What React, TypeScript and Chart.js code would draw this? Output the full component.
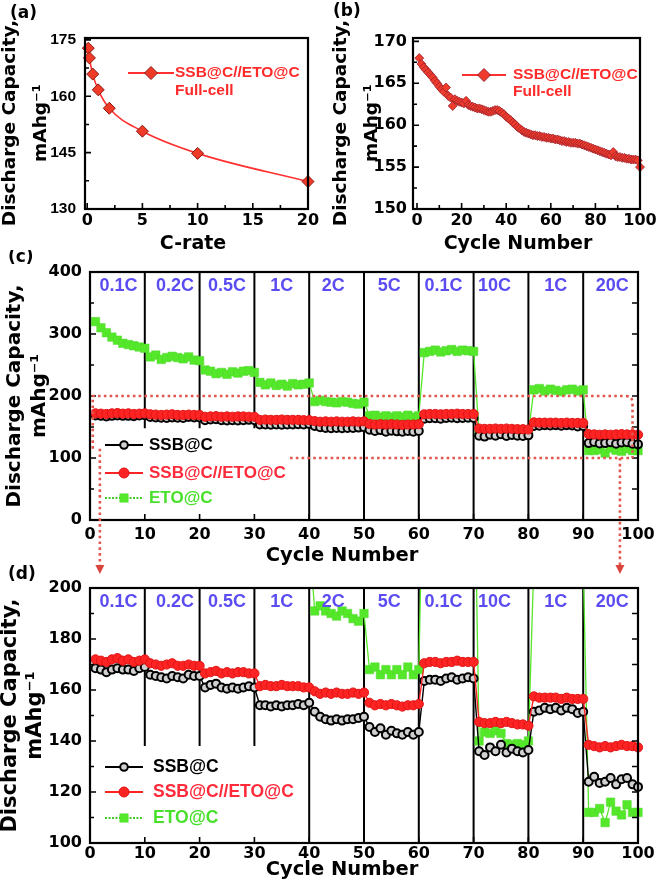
import React, { useEffect, useRef } from "react";
import { Chart, registerables } from "chart.js";

Chart.register(...registerables);

const SANS = '"Liberation Sans", Arial, Helvetica, sans-serif';
const WIDE = '"DejaVu Sans", Verdana, sans-serif';

const RED = "#ff2424";
const GREEN = "#55e82a";
const BLUE = "#5b4cf2";
const DOT_RED = "#e2574e";

// ---------------- (a) rate capability of the full cell ----------------
const aCRates = [0.1, 0.2, 0.5, 1, 2, 5, 10, 20];
const aCapacity = [172.8, 170.2, 165.9, 161.7, 156.8, 150.7, 144.8, 137.3];
const aXTicks = [0, 5, 10, 15, 20];
const aYTicks = [130, 145, 160, 175];

// ---------------- (b) cycling of the full cell ----------------
const bCapacity = [
  168.0, 167.3, 166.9, 166.6, 166.3, 166.0, 165.7, 165.3, 165.0, 164.6,
  164.3, 164.0, 164.5, 163.5, 163.3, 162.3, 163.1, 162.9, 162.8, 162.7,
  162.6, 162.9, 162.4, 162.3, 162.2, 162.1, 162.0, 162.0, 161.9, 161.8,
  161.7, 161.6, 161.6, 161.7, 161.8, 161.8, 161.7, 161.5, 161.3, 161.0,
  160.8, 160.6, 160.3, 160.1, 159.8, 159.6, 159.4, 159.2, 159.1, 159.0,
  158.9, 158.8, 158.8, 158.7, 158.7, 158.6, 158.6, 158.5, 158.5, 158.4,
  158.4, 158.3, 158.3, 158.2, 158.1, 158.1, 158.0, 158.0, 157.9, 157.9,
  157.9, 157.8, 157.8, 157.7, 157.6, 157.5, 157.4, 157.3, 157.2, 157.1,
  157.0, 156.9, 156.8, 156.7, 156.6, 156.5, 156.4, 156.8, 156.3, 156.2,
  156.2, 156.1, 156.1, 156.0, 156.0, 155.9, 155.9, 155.9, 155.8, 155.0,
];
const bXTicks = [0, 20, 40, 60, 80, 100];
const bYTicks = [150, 155, 160, 165, 170];

// ---------------- (c)/(d) rate test of the three electrodes ----------------
const seriesNames = ["SSB@C", "SSB@C//ETO@C", "ETO@C"];
const rateLabels = ["0.1C", "0.2C", "0.5C", "1C", "2C", "5C", "0.1C", "10C", "1C", "20C"];
const rateLabelCycle = [5.2, 15.5, 25, 35, 44.4, 54.6, 64.5, 73.8, 85, 95.3];
const dividerCycles = [10, 20, 30, 40, 50, 60, 70, 80, 90];

const ssbC = [
  168.5, 168, 167, 168, 168.5, 168, 168, 167.5, 168.5, 169,
  166, 165.5, 165, 164.5, 165.5, 165, 164.5, 166, 165.5, 165.5,
  161, 162, 162.5, 161, 160.5, 161, 160.5, 161, 161.5, 161,
  154, 154, 153.5, 154, 153.5, 154, 154, 154.5, 154, 155,
  151.5, 149.5, 148.5, 148, 148.5, 148, 148.5, 148.5, 149, 149.5,
  145.5, 143.5, 145, 142.5, 144, 143, 142.5, 143.5, 142.5, 143.5,
  163.5, 164, 164, 163.5, 164.5, 165, 164, 164.5, 165, 164.5,
  136, 134.5, 137.5, 136, 138.5, 135.5, 137, 136, 135.5, 136.5,
  151.5, 152, 153, 152.5, 153, 152, 153, 152.5, 151, 151.5,
  124, 126, 123.5, 124, 125.5, 123, 125, 125.5, 123, 122,
];
const ssbEtoC = [
  172, 171.5, 171, 172, 172.5, 171.5, 172, 171, 171.5, 172,
  170.5, 170, 169.5, 170, 170.5, 169.5, 169.5, 170, 169.5, 169.5,
  166.5, 167, 167.5, 166.5, 167, 166.5, 167, 167, 166.5, 166.5,
  161.5, 162, 161.5, 161.5, 162, 161.5, 161.5, 161.5, 161, 161,
  159.5, 158.5, 159, 158.5, 159, 158.5, 158.5, 159, 158.5, 159,
  155, 154, 154.5, 154, 154.5, 154, 153.5, 154, 154, 154.5,
  170.5, 171, 171, 170.5, 171, 171, 171.5, 171, 171, 171,
  147.5, 147, 147, 147.5, 147, 147.5, 147, 146.5, 146.5, 146,
  157.5, 157, 157, 157, 157, 156.5, 157, 156.5, 156.5, 156.5,
  138.5, 138, 137.5, 138, 137.5, 138, 138.5, 138, 138, 137.5,
];
const etoC = [
  320, 310, 302, 295, 290, 285, 283, 281, 279, 277,
  263, 266, 259, 262, 264, 262, 260, 263, 258, 257,
  242, 240, 236, 238, 235, 239, 237, 240, 241, 238,
  222, 218, 221, 217, 219, 216, 220, 218, 219, 221,
  191, 193, 191, 190, 189, 191, 190, 188, 187, 190,
  168, 169, 166, 168, 166, 168, 166, 169, 166, 168,
  270, 272, 274, 271, 273, 275, 272, 274, 273, 272,
  140, 143.5, 143, 144, 143, 139, 138.5, 139, 138.5, 140,
  210, 212, 208, 211, 209, 207, 210, 211, 208, 210,
  112, 112, 113.5, 108, 116, 112.5, 111, 115, 112, 112,
];
const cXTicks = [0, 10, 20, 30, 40, 50, 60, 70, 80, 90, 100];
const cYTicks = [0, 100, 200, 300, 400];
const dYTicks = [100, 120, 140, 160, 180, 200];

// ---------------- helpers ----------------
const midpoints = (t: number[]) => t.slice(1).map((v, i) => (v + t[i]) / 2);
const setTicks = (values: number[]) => (scale: any) => {
  scale.ticks = values.map((value) => ({ value }));
};
const bold = (size: number, family: string) => ({ family, size, weight: "bold" as const, lineHeight: 1.2 });

function xAxis(min: number, max: number, ticks: number[], height: number, pad: number, size: number) {
  return {
    type: "linear",
    min,
    max,
    afterBuildTicks: setTicks(ticks),
    afterFit: (s: any) => {
      s.height = height;
    },
    grid: { display: false, drawTicks: false },
    border: { display: false },
    ticks: { font: bold(size, WIDE), color: "#000", padding: pad, autoSkip: false, maxRotation: 0, minRotation: 0 },
  };
}
function yAxis(min: number, max: number, ticks: number[], width: number, pad: number, size: number, family: string) {
  return {
    type: "linear",
    min,
    max,
    afterBuildTicks: setTicks(ticks),
    afterFit: (s: any) => {
      s.width = width;
    },
    grid: { display: false, drawTicks: false },
    border: { display: false },
    ticks: { font: bold(size, family), color: "#000", padding: pad, autoSkip: false },
  };
}

function drawFrame(chart: any) {
  const { ctx, chartArea: a } = chart;
  ctx.save();
  ctx.strokeStyle = "#000";
  ctx.lineWidth = 2.2;
  ctx.strokeRect(a.left, a.top, a.right - a.left, a.bottom - a.top);
  ctx.restore();
}

function drawInnerTicks(chart: any, spec: { x: number[]; xMinor: number[]; y: number[]; yMinor: number[]; right: boolean }) {
  const { ctx, chartArea: a, scales } = chart;
  ctx.save();
  ctx.strokeStyle = "#000";
  ctx.lineWidth = 1.6;
  ctx.beginPath();
  const xs = scales.x;
  const ys = scales.y;
  const xt = (v: number, L: number) => {
    const p = xs.getPixelForValue(v);
    ctx.moveTo(p, a.bottom);
    ctx.lineTo(p, a.bottom - L);
  };
  const yt = (v: number, L: number) => {
    const p = ys.getPixelForValue(v);
    ctx.moveTo(a.left, p);
    ctx.lineTo(a.left + L, p);
    if (spec.right) {
      ctx.moveTo(a.right, p);
      ctx.lineTo(a.right - 6, p);
    }
  };
  spec.x.forEach((v) => xt(v, 6));
  spec.xMinor.forEach((v) => xt(v, 4));
  spec.y.forEach((v) => yt(v, 6));
  spec.yMinor.forEach((v) => yt(v, 4));
  ctx.stroke();
  ctx.restore();
}

function drawText(ctx: any, str: string, x: number, y: number, font: string, color: string, align = "left") {
  ctx.save();
  ctx.font = font;
  ctx.fillStyle = color;
  ctx.textAlign = align;
  ctx.textBaseline = "middle";
  ctx.fillText(str, x, y);
  ctx.restore();
}

function drawVText(ctx: any, lines: string[], xs: number[], y: number, font: string) {
  lines.forEach((line, i) => {
    ctx.save();
    ctx.translate(xs[i], y);
    ctx.rotate(-Math.PI / 2);
    ctx.font = font;
    ctx.fillStyle = "#000";
    ctx.textAlign = "center";
    ctx.textBaseline = "middle";
    ctx.fillText(line, 0, 0);
    ctx.restore();
  });
}

function drawMarker(ctx: any, kind: string, x: number, y: number, r: number, fill: string, stroke: string, lw: number) {
  ctx.save();
  ctx.fillStyle = fill;
  ctx.strokeStyle = stroke;
  ctx.lineWidth = lw;
  ctx.beginPath();
  if (kind === "circle") ctx.arc(x, y, r, 0, Math.PI * 2);
  else if (kind === "rect") {
    const h = r * Math.SQRT1_2;
    ctx.rect(x - h, y - h, 2 * h, 2 * h);
  } else {
    ctx.moveTo(x - r, y);
    ctx.lineTo(x, y - r);
    ctx.lineTo(x + r, y);
    ctx.lineTo(x, y + r);
    ctx.closePath();
  }
  ctx.fill();
  if (lw > 0) ctx.stroke();
  ctx.restore();
}

function drawLegendLine(ctx: any, x0: number, x1: number, y: number, color: string, width: number, dash: number[] = []) {
  ctx.save();
  ctx.strokeStyle = color;
  ctx.lineWidth = width;
  ctx.setLineDash(dash);
  ctx.beginPath();
  ctx.moveTo(x0, y);
  ctx.lineTo(x1, y);
  ctx.stroke();
  ctx.restore();
}

const WIDE_BOLD = (s: number) => `bold ${s}px ${WIDE}`;
const SANS_BOLD = (s: number) => `bold ${s}px ${SANS}`;

const baseOptions = (padTop: number, padRight: number) => ({
  responsive: false,
  animation: false,
  events: [],
  layout: { padding: { top: padTop, right: padRight, bottom: 0, left: 0 } },
  plugins: { legend: { display: false }, tooltip: { enabled: false }, title: { display: false } },
});

// ---------------- chart configs ----------------
function buildA() {
  return {
    type: "line",
    data: {
      datasets: [
        {
          label: "SSB@C//ETO@C Full-cell",
          data: aCRates.map((x, i) => ({ x, y: aCapacity[i] })),
          borderColor: "#ff3030",
          borderWidth: 1.6,
          cubicInterpolationMode: "monotone",
          pointStyle: "rectRot",
          pointRadius: 6,
          pointBackgroundColor: "#ef3a28",
          pointBorderColor: "#8a1a12",
          pointBorderWidth: 1,
          clip: false,
        },
      ],
    },
    options: {
      ...baseOptions(38, 22),
      scales: {
        x: xAxis(-0.2, 20, aXTicks, 53, 2, 16),
        y: yAxis(130, 175.5, aYTicks, 85, 9, 15.5, SANS),
      },
    },
    plugins: [
      {
        id: "decorA",
        afterDraw(chart: any) {
          const { ctx } = chart;
          drawFrame(chart);
          drawInnerTicks(chart, { x: aXTicks, xMinor: midpoints(aXTicks), y: aYTicks, yMinor: midpoints(aYTicks), right: false });
          drawLegendLine(ctx, 128, 174, 73, "#ff3030", 1.8);
          drawMarker(ctx, "diamond", 151, 73, 6.5, "#ef3a28", "#8a1a12", 1);
          drawText(ctx, "SSB@C//ETO@C", 175, 73, SANS_BOLD(15.5), "#ff2a2a");
          drawText(ctx, "Full-cell", 175, 91, SANS_BOLD(15.5), "#ff2a2a");
          drawText(ctx, "(a)", 10, 14, WIDE_BOLD(17), "#000");
          drawVText(ctx, ["Discharge Capacity,", "mAhg\u207B\u00B9"], [10, 41], 123, WIDE_BOLD(18.5));
          drawText(ctx, "C-rate", 193, 244, WIDE_BOLD(19), "#000", "center");
        },
      },
    ],
  };
}

function buildB() {
  return {
    type: "line",
    data: {
      datasets: [
        {
          label: "SSB@C//ETO@C Full-cell",
          data: bCapacity.map((y, i) => ({ x: i + 1, y })),
          borderColor: "#ff3030",
          borderWidth: 1,
          pointStyle: "rectRot",
          pointRadius: 4.5,
          pointBackgroundColor: "#ee3b2b",
          pointBorderColor: "#9b2230",
          pointBorderWidth: 0.8,
          clip: false,
        },
      ],
    },
    options: {
      ...baseOptions(38, 21),
      scales: {
        x: xAxis(-1.8, 100, bXTicks, 53, 2, 16),
        y: yAxis(150, 170.4, bYTicks, 83, 6, 16, WIDE),
      },
    },
    plugins: [
      {
        id: "decorB",
        afterDraw(chart: any) {
          const { ctx } = chart;
          drawFrame(chart);
          drawInnerTicks(chart, { x: bXTicks, xMinor: midpoints(bXTicks), y: bYTicks, yMinor: midpoints(bYTicks), right: false });
          drawLegendLine(ctx, 132, 176, 75, "#ff3030", 1.8);
          drawMarker(ctx, "diamond", 154, 75, 6.5, "#ee3b2b", "#9b2230", 1);
          drawText(ctx, "SSB@C//ETO@C", 183, 75, SANS_BOLD(15.5), "#ff2a2a");
          drawText(ctx, "Full-cell", 183, 92, SANS_BOLD(15.5), "#ff2a2a");
          drawText(ctx, "(b)", 3, 12, WIDE_BOLD(17), "#000");
          drawVText(ctx, ["Discharge Capacity,", "mAhg\u207B\u00B9"], [11, 42], 123, WIDE_BOLD(18.5));
          drawText(ctx, "Cycle Number", 188, 244, WIDE_BOLD(19), "#000", "center");
        },
      },
    ],
  };
}

type RateCfg = {
  id: string;
  panel: string;
  panelY: number;
  yMin: number;
  yMax: number;
  yTicks: number[];
  padTop: number;
  xHeight: number;
  xPad: number;
  dividerStop: number;
  legendY: number[];
  legendTextX: number;
  legendFont: number;
  yTitleX: number[];
  yTitleFont: number;
  xTitleY: number;
  annotate: boolean;
};

function buildRate(cfg: RateCfg) {
  const cycles = ssbC.map((_, i) => i + 1);
  const clip = { left: 8, right: 8, top: 0, bottom: 8 };
  return {
    type: "line",
    data: {
      datasets: [
        {
          label: seriesNames[1],
          data: cycles.map((x, i) => ({ x, y: ssbEtoC[i] })),
          borderColor: RED,
          borderWidth: 1.4,
          pointStyle: "circle",
          pointRadius: 4.6,
          pointBackgroundColor: RED,
          pointBorderColor: "#e01414",
          pointBorderWidth: 1,
          order: 0,
          clip,
        },
        {
          label: seriesNames[0],
          data: cycles.map((x, i) => ({ x, y: ssbC[i] })),
          borderColor: "#000",
          borderWidth: 1.4,
          pointStyle: "circle",
          pointRadius: 4,
          pointBackgroundColor: "#d0d0d0",
          pointBorderColor: "#000",
          pointBorderWidth: 2,
          order: 1,
          clip,
        },
        {
          label: seriesNames[2],
          data: cycles.map((x, i) => ({ x, y: etoC[i] })),
          borderColor: GREEN,
          borderWidth: 1.3,
          pointStyle: "rect",
          pointRadius: 6,
          pointBackgroundColor: GREEN,
          pointBorderColor: "#4cd82a",
          pointBorderWidth: 0.5,
          order: 2,
          clip,
        },
      ],
    },
    options: {
      ...baseOptions(cfg.padTop, 23),
      scales: {
        x: xAxis(0, 100, cXTicks, cfg.xHeight, cfg.xPad, 16),
        y: yAxis(cfg.yMin, cfg.yMax, cfg.yTicks, 90, 8, 16, WIDE),
      },
    },
    plugins: [
      {
        id: "dividers" + cfg.id,
        beforeDatasetsDraw(chart: any) {
          const { ctx, chartArea: a, scales } = chart;
          ctx.save();
          ctx.strokeStyle = "#000";
          ctx.lineWidth = 2;
          ctx.beginPath();
          dividerCycles.forEach((c, i) => {
            const x = scales.x.getPixelForValue(c);
            ctx.moveTo(x, a.top);
            ctx.lineTo(x, i < 3 ? scales.y.getPixelForValue(cfg.dividerStop) : a.bottom);
          });
          ctx.stroke();
          ctx.restore();
        },
      },
      {
        id: "decor" + cfg.id,
        afterDraw(chart: any) {
          const { ctx, chartArea: a, scales } = chart;
          const X = (v: number) => scales.x.getPixelForValue(v);
          const Y = (v: number) => scales.y.getPixelForValue(v);
          drawFrame(chart);
          const minorY = midpoints(cfg.yTicks);
          drawInnerTicks(chart, { x: cXTicks, xMinor: [], y: cfg.yTicks, yMinor: minorY, right: true });
          rateLabels.forEach((t, i) => drawText(ctx, t, X(rateLabelCycle[i]), a.top + 14, SANS_BOLD(18), BLUE, "center"));
          // legend
          const [y0, y1, y2] = cfg.legendY;
          drawLegendLine(ctx, 105, 143, y0, "#000", 2);
          drawMarker(ctx, "circle", 124, y0, 3.8, "#d0d0d0", "#000", 2);
          drawText(ctx, seriesNames[0], cfg.legendTextX, y0, SANS_BOLD(cfg.legendFont), "#000");
          drawLegendLine(ctx, 105, 143, y1, RED, 2);
          drawMarker(ctx, "circle", 124, y1, 5, RED, "#e01414", 1);
          drawText(ctx, seriesNames[1], cfg.legendTextX, y1, SANS_BOLD(cfg.legendFont), "#ff2a3a");
          drawLegendLine(ctx, 105, 143, y2, "#44c822", 2, [2, 1.5]);
          drawMarker(ctx, "rect", 124, y2, 6, GREEN, "#4cd82a", 0.5);
          drawText(ctx, seriesNames[2], cfg.legendTextX, y2, SANS_BOLD(cfg.legendFont), "#48e02a");
          // panel label and axis titles
          drawText(ctx, cfg.panel, 8, cfg.panelY, WIDE_BOLD(17), "#000");
          drawVText(ctx, ["Discharge Capacity,", "mAhg\u207B\u00B9"], cfg.yTitleX, (a.top + a.bottom) / 2, WIDE_BOLD(cfg.yTitleFont));
          drawText(ctx, "Cycle Number", 342, cfg.xTitleY, WIDE_BOLD(19.5), "#000", "center");
          if (cfg.annotate) {
            ctx.save();
            ctx.strokeStyle = DOT_RED;
            ctx.lineWidth = 2.6;
            ctx.setLineDash([2.6, 3.2]);
            ctx.beginPath();
            const r = 7;
            ctx.moveTo(X(0.5), Y(115));
            ctx.lineTo(X(0.5), Y(200));
            ctx.lineTo(X(99) - r, Y(200));
            ctx.quadraticCurveTo(X(99), Y(200), X(99), Y(200) + r);
            ctx.lineTo(X(99), Y(100));
            ctx.moveTo(X(36.5), Y(100));
            ctx.lineTo(X(99), Y(100));
            const tipY = 324;
            ctx.moveTo(X(1.8), Y(115));
            ctx.lineTo(X(1.8), tipY - 8);
            ctx.moveTo(X(96.7), Y(100));
            ctx.lineTo(X(96.7), tipY - 8);
            ctx.stroke();
            ctx.setLineDash([]);
            ctx.fillStyle = "#d9443c";
            [X(1.8), X(96.7)].forEach((ax) => {
              ctx.beginPath();
              ctx.moveTo(ax - 4.5, tipY - 9);
              ctx.lineTo(ax + 4.5, tipY - 9);
              ctx.lineTo(ax, tipY);
              ctx.closePath();
              ctx.fill();
            });
            ctx.restore();
          }
        },
      },
    ],
  };
}

const buildC = () =>
  buildRate({
    id: "C",
    panel: "(c)",
    panelY: 8,
    yMin: 0,
    yMax: 400,
    yTicks: cYTicks,
    padTop: 22,
    xHeight: 65,
    xPad: 5,
    dividerStop: 148,
    legendY: [195, 223, 248],
    legendTextX: 149,
    legendFont: 17,
    yTitleX: [15, 40],
    yTitleFont: 20,
    xTitleY: 306,
    annotate: true,
  });

const buildD = () =>
  buildRate({
    id: "D",
    panel: "(d)",
    panelY: 10,
    yMin: 100,
    yMax: 200,
    yTicks: dYTicks,
    padTop: 23,
    xHeight: 41,
    xPad: 1,
    dividerStop: 138,
    legendY: [202, 227, 253],
    legendTextX: 153,
    legendFont: 17.5,
    yTitleX: [11, 36],
    yTitleFont: 21,
    xTitleY: 305,
    annotate: false,
  });

function ChartCanvas(props: { left: number; top: number; width: number; height: number; build: () => any }) {
  const ref = useRef<HTMLCanvasElement | null>(null);
  useEffect(() => {
    const chart = new Chart(ref.current as HTMLCanvasElement, props.build());
    return () => chart.destroy();
  }, []);
  return (
    <canvas
      ref={ref}
      width={props.width}
      height={props.height}
      style={{ position: "absolute", left: props.left, top: props.top, width: props.width, height: props.height }}
    />
  );
}

export default function App() {
  return (
    <div style={{ position: "absolute", left: 0, top: 0, width: 661, height: 884, background: "#fff", overflow: "hidden" }}>
      <ChartCanvas left={0} top={565} width={661} height={319} build={buildD} />
      <ChartCanvas left={0} top={0} width={330} height={262} build={buildA} />
      <ChartCanvas left={330} top={0} width={331} height={262} build={buildB} />
      <ChartCanvas left={0} top={250} width={661} height={335} build={buildC} />
    </div>
  );
}
